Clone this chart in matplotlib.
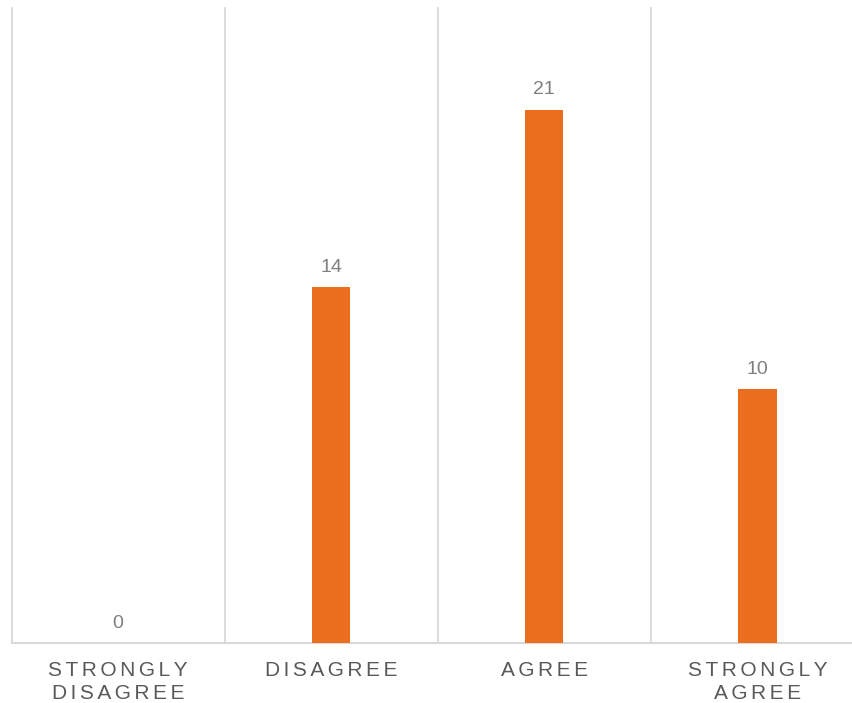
import matplotlib
matplotlib.use("Agg")
import matplotlib.pyplot as plt

categories = ["STRONGLY\nDISAGREE", "DISAGREE", "AGREE", "STRONGLY\nAGREE"]
values = [0, 14, 21, 10]

def spaced(s):
    return "\n".join("\u2006".join(line) for line in s.split("\n"))

plt.rcParams['font.family'] = ['Liberation Sans', 'DejaVu Sans']

fig = plt.figure(figsize=(8.53, 7.03), dpi=100)
ax = fig.add_axes([11.5/853, 60/703, 852.5/853, 635/703])

x = list(range(len(categories)))
ax.bar(x, values, width=0.18, color='#EB6E1F', zorder=3)
ax.set_xlim(-0.5, len(categories) - 0.5)
ax.set_ylim(0, 25)

grid_c = '#D9D9D9'
for b in [i - 0.5 for i in range(len(categories) + 1)]:
    ax.plot([b, b], [0, 25], color=grid_c, lw=1.3, clip_on=False, zorder=1)
ax.plot([-0.5, len(categories) - 0.5], [0, 0], color=grid_c, lw=1.5, clip_on=False, zorder=2)

for s in ax.spines.values():
    s.set_visible(False)
ax.set_yticks([])
ax.set_xticks(x)
ax.set_xticklabels([spaced(c) for c in categories], fontsize=15, color='#595959',
                   linespacing=1.25, va='top')
ax.tick_params(axis='x', length=0, pad=13)

for xi, v in zip(x, values):
    ax.annotate(str(v), (xi, v), xytext=(0, 8), textcoords='offset points',
                ha='center', va='bottom', fontsize=14, color='#7F7F7F')

fig.savefig("out.png", dpi=100)
